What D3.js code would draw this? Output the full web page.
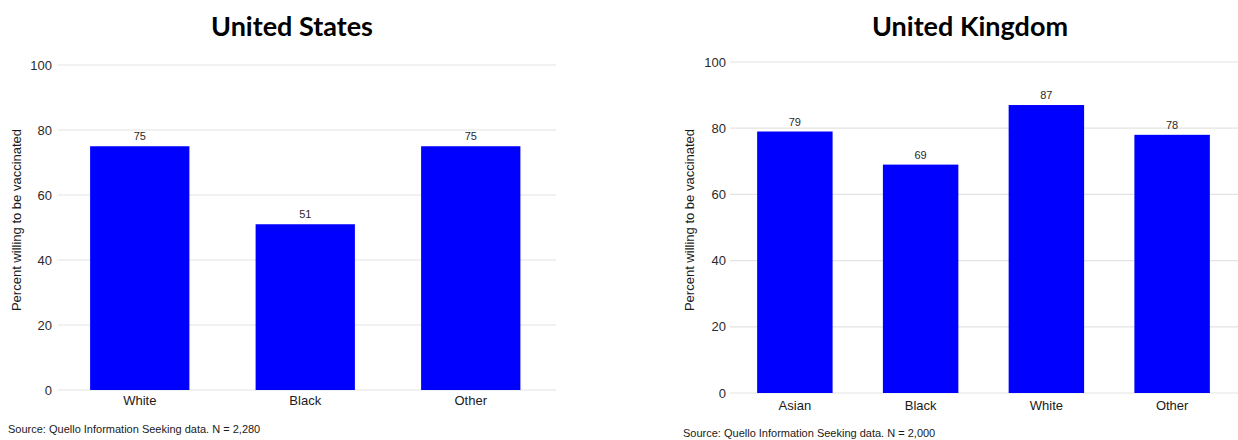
<!DOCTYPE html>
<html><head><meta charset="utf-8">
<script src="https://cdn.jsdelivr.net/npm/d3@7"></script>
<style>body{margin:0;background:#fff}svg{display:block}</style>
</head><body>
<svg id="chart" width="1238" height="440"></svg>
<script>
const usCategories = ["White", "Black", "Other"];
const usValues = [75, 51, 75];
const ukCategories = ["Asian", "Black", "White", "Other"];
const ukValues = [79, 69, 87, 78];
const yTicks = [0, 20, 40, 60, 80, 100];
const titles = ["United States", "United Kingdom"];
const yAxisTitle = "Percent willing to be vaccinated";
const sources = ["Source: Quello Information Seeking data. N = 2,280", "Source: Quello Information Seeking data. N = 2,000"];

const svg = d3.select("#chart");
const font = "'Liberation Sans', Arial, sans-serif";

function panel(cfg) {
  const g = svg.append("g");
  const y = d3.scaleLinear().domain([0, 100]).range([cfg.y0, cfg.y100]);
  const x = d3.scaleBand().domain(cfg.cats).range(cfg.xr).paddingInner(0.4).paddingOuter(0.2);
  // grid
  g.selectAll(".grid").data(yTicks).join("line")
    .attr("x1", cfg.gx[0]).attr("x2", cfg.gx[1])
    .attr("y1", d => y(d)).attr("y2", d => y(d))
    .attr("stroke", "#e3e3e3").attr("stroke-width", 1.2);
  // y axis
  const ya = d3.axisLeft(y).tickValues(yTicks).tickSize(0).tickPadding(0);
  const yg = g.append("g").attr("transform", `translate(${cfg.tickX},0)`).call(ya);
  yg.select(".domain").remove();
  yg.selectAll("text").attr("font-family", font).attr("font-size", 13).attr("fill", "#2a2a2a");
  // bars
  g.selectAll(".bar").data(cfg.cats).join("rect")
    .attr("x", d => x(d)).attr("width", x.bandwidth())
    .attr("y", (d, i) => y(cfg.vals[i])).attr("height", (d, i) => y(0) - y(cfg.vals[i]))
    .attr("fill", "#0000ff");
  // value labels
  g.selectAll(".vl").data(cfg.cats).join("text")
    .attr("x", d => x(d) + x.bandwidth() / 2)
    .attr("y", (d, i) => y(cfg.vals[i]) - 6)
    .attr("text-anchor", "middle").attr("font-family", font).attr("font-size", 11)
    .attr("fill", "#2a2a2a").text((d, i) => cfg.vals[i]);
  // x axis
  const xa = d3.axisBottom(x).tickSize(0).tickPadding(0);
  const xg = g.append("g").attr("transform", `translate(0,${cfg.xLabelY})`).call(xa);
  xg.select(".domain").remove();
  xg.selectAll("text").attr("font-family", font).attr("font-size", 13).attr("fill", "#1a1a1a").attr("dy", "0.71em");
  // y title
  g.append("text").attr("transform", `translate(${cfg.ytX},${cfg.ytY}) rotate(-90)`)
    .attr("text-anchor", "middle").attr("font-family", font).attr("font-size", 13)
    .attr("fill", "#1a1a1a").text(yAxisTitle);
  // title
  g.append("text").attr("x", cfg.titleX).attr("y", cfg.titleY).attr("text-anchor", "middle")
    .attr("font-family", "Lato, 'Open Sans', sans-serif").attr("font-weight", "bold").attr("font-size", 27)
    .attr("fill", "#000").text(cfg.title);
  // source
  g.append("text").attr("x", cfg.srcX).attr("y", cfg.srcY).attr("font-family", font).attr("font-size", 11)
    .attr("fill", "#1a1a1a").text(cfg.source);
}

panel({cats: usCategories, vals: usValues, y0: 390, y100: 65, xr: [57, 553.5], gx: [58, 556],
  tickX: 52, xLabelY: 396, ytX: 21, ytY: 220, titleX: 292, titleY: 36, title: titles[0],
  srcX: 8, srcY: 433, source: sources[0]});
panel({cats: ukCategories, vals: ukValues, y0: 393, y100: 62, xr: [732, 1235], gx: [730, 1238],
  tickX: 726, xLabelY: 401, ytX: 694, ytY: 220, titleX: 970, titleY: 36, title: titles[1],
  srcX: 683, srcY: 437, source: sources[1]});
</script>
</body></html>
